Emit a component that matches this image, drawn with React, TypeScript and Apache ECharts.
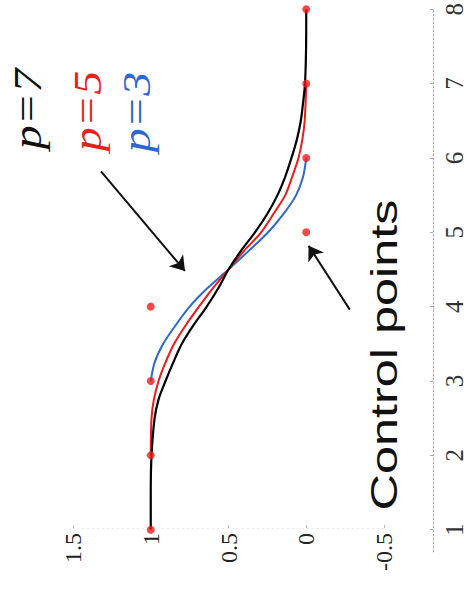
import { useEffect, useRef } from "react";
import * as echarts from "echarts";

// Parameter axis (drawn vertically, 1 at bottom, 8 at top)
const tTicks = [1, 2, 3, 4, 5, 6, 7, 8];
// Value axis (drawn horizontally, 1.5 at left, -0.5 at right)
const valueMin = -0.5;
const valueMax = 1.5;
const valueStep = 0.5;

// Control points
const tCtrl = [1, 2, 3, 4, 5, 6, 7, 8];
const vCtrl = [1, 1, 1, 1, 0, 0, 0, 0];

// p = 7 (black)
const tP7 = [1, 1.5, 2, 2.5, 2.75, 3, 3.25, 3.5, 3.75, 4, 4.25, 4.5, 4.75, 5, 5.25, 5.5, 5.75, 6, 6.25, 6.5, 6.75, 7, 7.5, 8];
const vP7 = [1, 1, 0.995, 0.975, 0.95, 0.905, 0.855, 0.8, 0.725, 0.64, 0.565, 0.5, 0.42, 0.33, 0.25, 0.185, 0.135, 0.095, 0.06, 0.035, 0.02, 0.008, 0.001, 0];

// p = 5 (red)
const tP5 = [2, 2.5, 2.75, 3, 3.25, 3.5, 3.75, 4, 4.25, 4.5, 4.75, 5, 5.25, 5.5, 5.75, 6, 6.25, 6.5, 7];
const vP5 = [1, 0.995, 0.98, 0.95, 0.905, 0.85, 0.775, 0.69, 0.6, 0.5, 0.4, 0.29, 0.21, 0.135, 0.09, 0.05, 0.025, 0.01, 0];

// p = 3 (blue)
const tP3 = [3, 3.25, 3.5, 3.75, 4, 4.25, 4.5, 4.75, 5, 5.25, 5.5, 5.75, 6];
const vP3 = [1, 0.975, 0.92, 0.84, 0.75, 0.635, 0.5, 0.37, 0.245, 0.145, 0.065, 0.02, 0];

// Arrow annotations in data space: [value, t]
const arrowCurves = [[1.32, 5.82], [0.78, 4.48]];
const arrowCtrl = [[-0.28, 3.96], [-0.015, 4.82]];

const labels = ["p=7", "p=5", "p=3"];
const labelColors = ["#111111", "#e8211c", "#2d68cf"];

const pair = (ts: number[], vs: number[]) => ts.map((t, i) => [vs[i], t]);

export default function App() {
  const ref = useRef<HTMLDivElement>(null);
  useEffect(() => {
    const chart = echarts.init(ref.current!, null, { renderer: "svg" });
    const textEl = (text: string, x: number, y: number, font: string, fill: string, sx: number) => ({
      type: "text",
      x,
      y,
      rotation: Math.PI / 2,
      scaleX: sx,
      style: {
        text,
        font,
        fill,
        align: "center",
        verticalAlign: "middle",
        textAlign: "center",
        textVerticalAlign: "middle",
      },
    });
    chart.setOption({
      animation: false,
      backgroundColor: "#ffffff",
      grid: { left: 73, right: 74, top: 7, bottom: 49 },
      xAxis: {
        type: "value",
        min: valueMin,
        max: valueMax,
        interval: valueStep,
        inverse: true,
        position: "bottom",
        offset: -24,
        axisLine: { show: true, onZero: false, lineStyle: { color: "#ececec", width: 1, type: [2, 3] } },
        axisTick: { show: true, inside: true, length: 3, lineStyle: { color: "#bbbbbb" } },
        splitLine: { show: false },
        axisLabel: {
          rotate: 90,
          margin: 5,
          fontFamily: "Liberation Serif",
          fontSize: 24,
          color: "#222222",
        },
      },
      yAxis: {
        type: "value",
        min: 0.7,
        max: 8,
        position: "right",
        offset: 49,
        axisLine: { show: true, onZero: false, lineStyle: { color: "#aaaaaa", width: 1, type: [2, 2] } },
        axisTick: { show: true, inside: true, length: 3, customValues: tTicks, lineStyle: { color: "#aaaaaa" } },
        splitLine: { show: false },
        axisLabel: {
          customValues: tTicks,
          rotate: 90,
          margin: 9,
          fontFamily: "Liberation Serif",
          fontSize: 25,
          color: "#333333",
        },
      },
      series: [
        {
          type: "line",
          data: pair(tP3, vP3),
          showSymbol: false,
          smooth: 0.3,
          lineStyle: { color: "#2d68cf", width: 2 },
          z: 2,
        },
        {
          type: "line",
          data: pair(tP5, vP5),
          showSymbol: false,
          smooth: 0.3,
          lineStyle: { color: "#ee1a16", width: 2 },
          z: 3,
        },
        {
          type: "line",
          data: pair(tP7, vP7),
          showSymbol: false,
          smooth: 0.3,
          lineStyle: { color: "#000000", width: 2.2 },
          z: 4,
        },
        {
          type: "scatter",
          data: pair(tCtrl, vCtrl),
          symbolSize: 8,
          itemStyle: { color: "#f01c1c" },
          z: 5,
          markLine: {
            silent: true,
            symbol: ["none", "arrow"],
            symbolSize: 14,
            label: { show: false },
            emphasis: { disabled: true },
            lineStyle: { color: "#111111", width: 2, type: "solid" },
            data: [
              [{ coord: arrowCurves[0] }, { coord: arrowCurves[1] }],
              [{ coord: arrowCtrl[0] }, { coord: arrowCtrl[1] }],
            ],
          },
        },
      ],
      graphic: [
        textEl(labels[0], 28, 109, 'italic 40px "Liberation Serif"', labelColors[0], 1.2),
        textEl(labels[1], 88, 111, 'italic 40px "Liberation Serif"', labelColors[1], 1.2),
        textEl(labels[2], 137, 112, 'italic 40px "Liberation Serif"', labelColors[2], 1.2),
        textEl("Control points", 384, 355, '36px "Liberation Sans"', "#111111", 1.4),
      ],
    });
    return () => chart.dispose();
  }, []);
  return (
    <div
      ref={ref}
      style={{ position: "fixed", left: 0, top: 0, width: 467, height: 601, background: "#fff" }}
    />
  );
}
